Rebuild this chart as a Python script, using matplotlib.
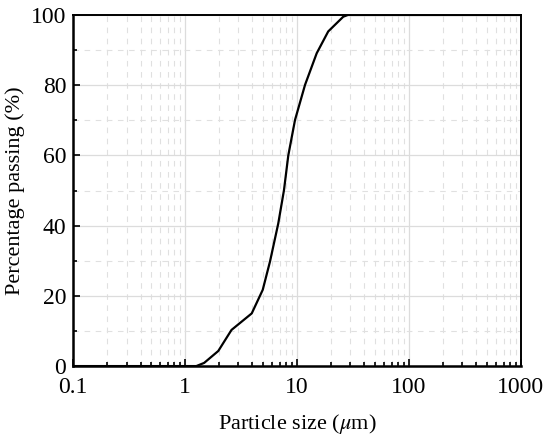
import numpy as np
import matplotlib.pyplot as plt
from matplotlib.ticker import LogLocator, MultipleLocator, FixedFormatter, NullFormatter

plt.rcParams['font.family'] = ['Liberation Serif', 'DejaVu Serif']
plt.rcParams['mathtext.fontset'] = 'stix'

# particle size distribution
size_um = [0.1, 0.2, 0.5, 1.0, 1.26, 1.48, 1.98, 2.6, 3.94, 4.94, 5.74,
           6.8, 7.65, 8.36, 9.6, 11.8, 15.0, 19.0, 25.9, 28.5, 100.0, 1000.0]
passing = [0.0, 0.0, 0.0, 0.0, 0.0, 0.9, 4.3, 10.3, 15.0, 21.7, 29.8,
           40.6, 50.1, 60.0, 70.1, 80.1, 89.1, 95.3, 99.5, 100.0, 100.0, 100.0]

x_ticks = [0.1, 1, 10, 100, 1000]
x_labels = ['0.1', '1', '10', '100', '1000']

fig = plt.figure(figsize=(5.5, 4.4), dpi=100)
ax = fig.add_axes([0.133, 0.168, 0.814, 0.798])

ax.plot(size_um, passing, color='black', lw=1.6, zorder=3)

ax.set_xscale('log')
ax.set_xlim(0.1, 1000)
ax.set_ylim(0, 100)
ax.set_xticks(x_ticks)
ax.xaxis.set_major_formatter(FixedFormatter(x_labels))
ax.xaxis.set_minor_locator(LogLocator(base=10, subs=np.arange(2, 10)))
ax.xaxis.set_minor_formatter(NullFormatter())
ax.yaxis.set_major_locator(MultipleLocator(20))
ax.yaxis.set_minor_locator(MultipleLocator(10))

# grid: light solid for majors, dashed for minors
ax.grid(True, which='major', color='#dcdcdc', lw=0.9, ls='-', zorder=0)
ax.grid(True, which='minor', color='#e0e0e0', lw=0.8, ls=(0, (5, 5)), zorder=0)
ax.set_axisbelow(True)

ax.tick_params(which='both', direction='in', top=False, right=False,
               labelsize=17, width=1.2)
ax.tick_params(axis='x', which='major', length=5, pad=8)
ax.tick_params(axis='y', which='major', length=5, pad=5)
ax.tick_params(which='minor', length=3)

for side in ['left', 'bottom']:
    ax.spines[side].set_linewidth(1.8)
for side in ['top', 'right']:
    ax.spines[side].set_linewidth(1.4)

ax.set_xlabel(r'Particle size ($\mu$m)', fontsize=16, labelpad=10)
ax.set_ylabel('Percentage passing (%)', fontsize=16, labelpad=4)

fig.savefig('out.png', dpi=100)
